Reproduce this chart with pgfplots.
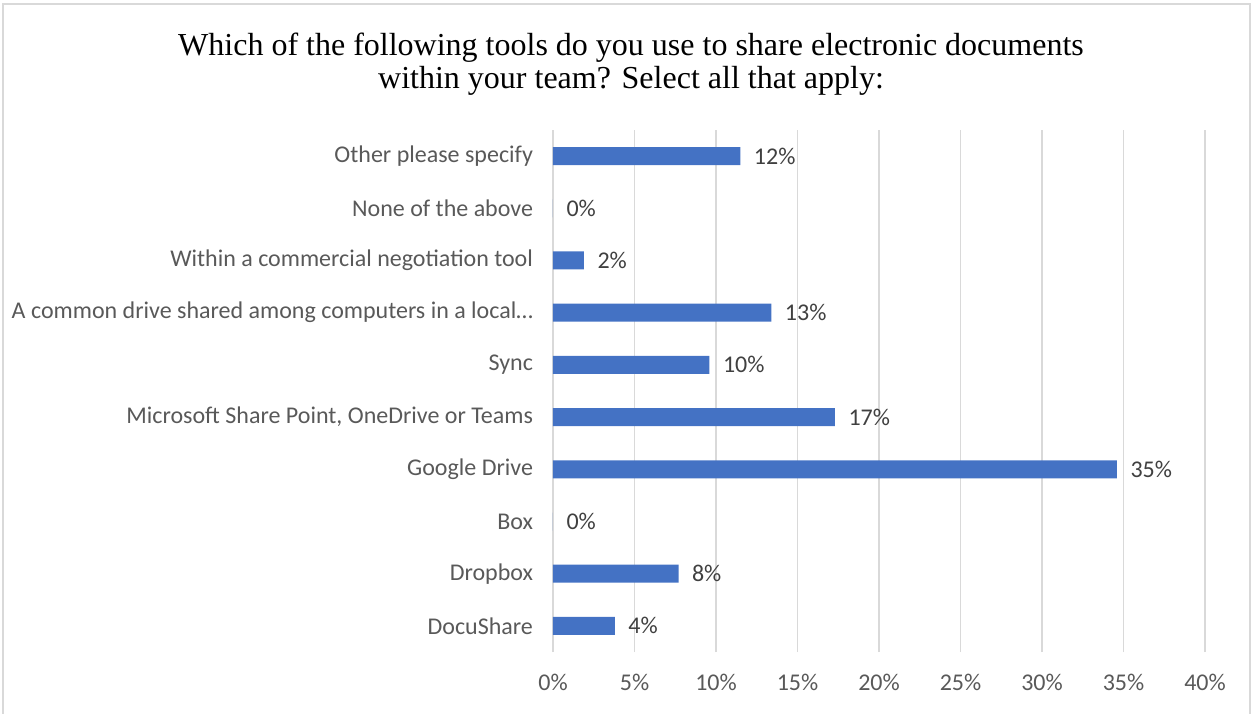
\documentclass[border=0pt]{standalone}
\usepackage{pgfplots}
\pgfplotsset{compat=1.18}
\usepackage{pgfplotstable}
\usepackage{fontspec}
\setmainfont{Carlito}
\newfontfamily\titlefont{Liberation Serif}
\definecolor{barblue}{HTML}{4472C4}
\definecolor{gridgray}{HTML}{D9D9D9}
\definecolor{txtgray}{HTML}{595959}
\definecolor{lblgray}{HTML}{404040}

\pgfplotstableread{
y v lab
0 3.8 4
1 7.7 8
2 0 0
3 34.6 35
4 17.3 17
5 9.6 10
6 13.4 13
7 1.9 2
8 0 0
9 11.5 12
}\datatab

\begin{document}
\begin{tikzpicture}[x=1pt,y=1pt]
\useasboundingbox (0,0) rectangle (1253,713);
\draw[gridgray, line width=1.5pt] (3,-5) rectangle (1250,709);
\node[font=\titlefont\fontsize{32}{33}\selectfont, align=center, inner sep=0pt] at (631,649)
  {Which of the following tools do you use to share electronic documents\\within your team? Select all that apply:};
\begin{axis}[
  at={(553pt,61pt)}, anchor=south west,
  scale only axis, width=652pt, height=522pt,
  xmin=0, xmax=40, ymin=-0.5, ymax=9.5,
  xbar, bar width=18pt,
  axis line style={draw=none},
  major tick length=0pt,
  xmajorgrids, grid style={gridgray, line width=1.5pt},
  xtick={0,5,...,40},
  xticklabels={0\%,5\%,10\%,15\%,20\%,25\%,30\%,35\%,40\%},
  xticklabel style={font=\fontsize{24}{28}\selectfont, text=txtgray, yshift=-19pt},
  ytick={0,...,9},
  yticklabels={DocuShare, Dropbox, Box, Google Drive, {Microsoft Share Point, OneDrive or Teams}, Sync, {A common drive shared among computers in a local…}, Within a commercial negotiation tool, None of the above, Other please specify},
  yticklabel style={font=\fontsize{24}{28}\selectfont, text=txtgray, xshift=-16.5pt},
  nodes near coords={\pgfplotspointmeta\%},
  point meta=explicit symbolic,
  every node near coord/.append style={font=\fontsize{24}{28}\selectfont, text=lblgray, anchor=west, xshift=10pt},
]
\addplot[fill=barblue, draw=none] table[x=v, y=y, meta=lab] {\datatab};
\end{axis}
\end{tikzpicture}
\end{document}
